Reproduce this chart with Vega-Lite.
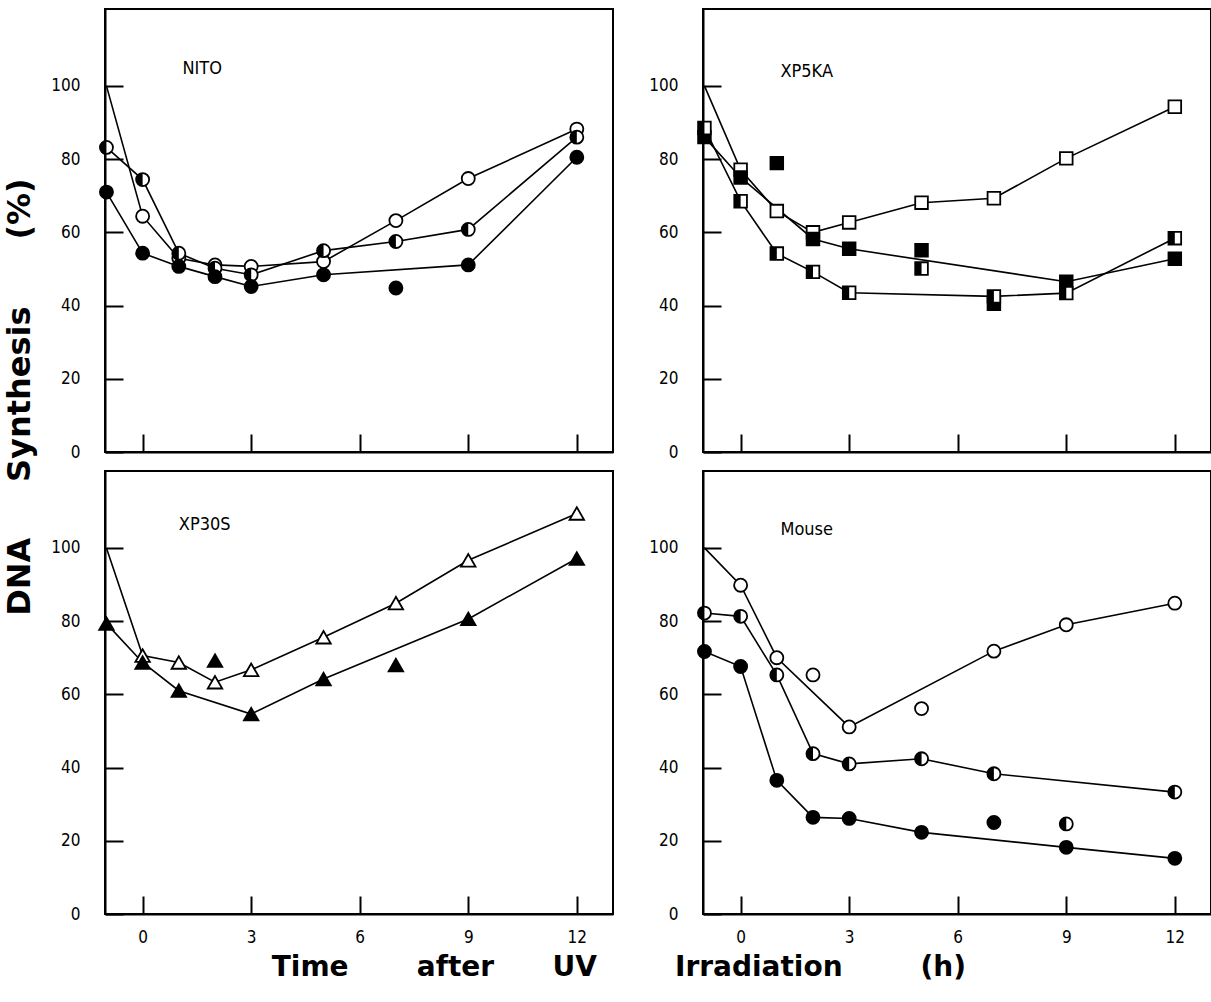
{
  "$schema": "https://vega.github.io/schema/vega-lite/v6.json",
  "background": "white",
  "padding": {"left": 3, "top": 8, "right": 0, "bottom": 2},
  "title": {"text": "DNA\u00a0\u00a0\u00a0\u00a0\u00a0Synthesis\u00a0\u00a0\u00a0\u00a0\u00a0\u00a0(%)", "orient": "left", "anchor": "middle", "dx": 98, "font": "DejaVu Sans", "fontSize": 32, "fontWeight": "bold", "color": "black", "offset": 13},
  "datasets": {
    "pts": [
      {"panel": "NITO", "series": "open", "time": -1, "value": 100, "connected": true, "marked": false},
      {"panel": "NITO", "series": "open", "time": 0, "value": 64.4, "connected": true, "marked": true},
      {"panel": "NITO", "series": "open", "time": 1, "value": 52.9, "connected": true, "marked": true},
      {"panel": "NITO", "series": "open", "time": 2, "value": 51.1, "connected": true, "marked": true},
      {"panel": "NITO", "series": "open", "time": 3, "value": 50.7, "connected": true, "marked": true},
      {"panel": "NITO", "series": "open", "time": 5, "value": 52.0, "connected": true, "marked": true},
      {"panel": "NITO", "series": "open", "time": 7, "value": 63.2, "connected": true, "marked": true},
      {"panel": "NITO", "series": "open", "time": 9, "value": 74.7, "connected": true, "marked": true},
      {"panel": "NITO", "series": "open", "time": 12, "value": 88.2, "connected": true, "marked": true},
      {"panel": "NITO", "series": "half", "time": -1, "value": 83.2, "connected": true, "marked": true},
      {"panel": "NITO", "series": "half", "time": 0, "value": 74.4, "connected": true, "marked": true},
      {"panel": "NITO", "series": "half", "time": 1, "value": 54.3, "connected": true, "marked": true},
      {"panel": "NITO", "series": "half", "time": 2, "value": 50.2, "connected": true, "marked": true},
      {"panel": "NITO", "series": "half", "time": 3, "value": 48.4, "connected": true, "marked": true},
      {"panel": "NITO", "series": "half", "time": 5, "value": 55.0, "connected": true, "marked": true},
      {"panel": "NITO", "series": "half", "time": 7, "value": 57.5, "connected": true, "marked": true},
      {"panel": "NITO", "series": "half", "time": 9, "value": 60.8, "connected": true, "marked": true},
      {"panel": "NITO", "series": "half", "time": 12, "value": 86.0, "connected": true, "marked": true},
      {"panel": "NITO", "series": "filled", "time": -1, "value": 71.0, "connected": true, "marked": true},
      {"panel": "NITO", "series": "filled", "time": 0, "value": 54.3, "connected": true, "marked": true},
      {"panel": "NITO", "series": "filled", "time": 1, "value": 50.7, "connected": true, "marked": true},
      {"panel": "NITO", "series": "filled", "time": 2, "value": 47.9, "connected": true, "marked": true},
      {"panel": "NITO", "series": "filled", "time": 3, "value": 45.2, "connected": true, "marked": true},
      {"panel": "NITO", "series": "filled", "time": 5, "value": 48.4, "connected": true, "marked": true},
      {"panel": "NITO", "series": "filled", "time": 7, "value": 44.8, "connected": false, "marked": true},
      {"panel": "NITO", "series": "filled", "time": 9, "value": 51.1, "connected": true, "marked": true},
      {"panel": "NITO", "series": "filled", "time": 12, "value": 80.5, "connected": true, "marked": true},

      {"panel": "XP5KA", "series": "open", "time": -1, "value": 100, "connected": true, "marked": false},
      {"panel": "XP5KA", "series": "open", "time": 0, "value": 77.1, "connected": true, "marked": true},
      {"panel": "XP5KA", "series": "open", "time": 1, "value": 65.8, "connected": true, "marked": true},
      {"panel": "XP5KA", "series": "open", "time": 2, "value": 60.0, "connected": true, "marked": true},
      {"panel": "XP5KA", "series": "open", "time": 3, "value": 62.7, "connected": true, "marked": true},
      {"panel": "XP5KA", "series": "open", "time": 5, "value": 68.1, "connected": true, "marked": true},
      {"panel": "XP5KA", "series": "open", "time": 7, "value": 69.3, "connected": true, "marked": true},
      {"panel": "XP5KA", "series": "open", "time": 9, "value": 80.2, "connected": true, "marked": true},
      {"panel": "XP5KA", "series": "open", "time": 12, "value": 94.3, "connected": true, "marked": true},
      {"panel": "XP5KA", "series": "filled", "time": -1, "value": 86.0, "connected": true, "marked": true},
      {"panel": "XP5KA", "series": "filled", "time": 0, "value": 75.0, "connected": true, "marked": true},
      {"panel": "XP5KA", "series": "filled", "time": 1, "value": 78.9, "connected": false, "marked": true},
      {"panel": "XP5KA", "series": "filled", "time": 2, "value": 58.2, "connected": true, "marked": true},
      {"panel": "XP5KA", "series": "filled", "time": 3, "value": 55.5, "connected": true, "marked": true},
      {"panel": "XP5KA", "series": "filled", "time": 5, "value": 55.1, "connected": false, "marked": true},
      {"panel": "XP5KA", "series": "filled", "time": 7, "value": 40.5, "connected": false, "marked": true},
      {"panel": "XP5KA", "series": "filled", "time": 9, "value": 46.5, "connected": true, "marked": true},
      {"panel": "XP5KA", "series": "filled", "time": 12, "value": 52.8, "connected": true, "marked": true},
      {"panel": "XP5KA", "series": "half", "time": -1, "value": 88.5, "connected": true, "marked": true},
      {"panel": "XP5KA", "series": "half", "time": 0, "value": 68.5, "connected": true, "marked": true},
      {"panel": "XP5KA", "series": "half", "time": 1, "value": 54.2, "connected": true, "marked": true},
      {"panel": "XP5KA", "series": "half", "time": 2, "value": 49.2, "connected": true, "marked": true},
      {"panel": "XP5KA", "series": "half", "time": 3, "value": 43.5, "connected": true, "marked": true},
      {"panel": "XP5KA", "series": "half", "time": 5, "value": 50.1, "connected": false, "marked": true},
      {"panel": "XP5KA", "series": "half", "time": 7, "value": 42.5, "connected": true, "marked": true},
      {"panel": "XP5KA", "series": "half", "time": 9, "value": 43.4, "connected": true, "marked": true},
      {"panel": "XP5KA", "series": "half", "time": 12, "value": 58.4, "connected": true, "marked": true},

      {"panel": "XP30S", "series": "open", "time": -1, "value": 100, "connected": true, "marked": false},
      {"panel": "XP30S", "series": "open", "time": 0, "value": 70.6, "connected": true, "marked": true},
      {"panel": "XP30S", "series": "open", "time": 1, "value": 68.7, "connected": true, "marked": true},
      {"panel": "XP30S", "series": "open", "time": 2, "value": 63.3, "connected": true, "marked": true},
      {"panel": "XP30S", "series": "open", "time": 3, "value": 66.7, "connected": true, "marked": true},
      {"panel": "XP30S", "series": "open", "time": 5, "value": 75.6, "connected": true, "marked": true},
      {"panel": "XP30S", "series": "open", "time": 7, "value": 84.9, "connected": true, "marked": true},
      {"panel": "XP30S", "series": "open", "time": 9, "value": 96.6, "connected": true, "marked": true},
      {"panel": "XP30S", "series": "open", "time": 12, "value": 109.4, "connected": true, "marked": true},
      {"panel": "XP30S", "series": "filled", "time": -1, "value": 79.3, "connected": true, "marked": true},
      {"panel": "XP30S", "series": "filled", "time": 0, "value": 68.7, "connected": true, "marked": true},
      {"panel": "XP30S", "series": "filled", "time": 1, "value": 61.0, "connected": true, "marked": true},
      {"panel": "XP30S", "series": "filled", "time": 2, "value": 69.2, "connected": false, "marked": true},
      {"panel": "XP30S", "series": "filled", "time": 3, "value": 54.6, "connected": true, "marked": true},
      {"panel": "XP30S", "series": "filled", "time": 5, "value": 64.2, "connected": true, "marked": true},
      {"panel": "XP30S", "series": "filled", "time": 7, "value": 68.0, "connected": false, "marked": true},
      {"panel": "XP30S", "series": "filled", "time": 9, "value": 80.6, "connected": true, "marked": true},
      {"panel": "XP30S", "series": "filled", "time": 12, "value": 97.1, "connected": true, "marked": true},

      {"panel": "Mouse", "series": "open", "time": -1, "value": 100, "connected": true, "marked": false},
      {"panel": "Mouse", "series": "open", "time": 0, "value": 89.8, "connected": true, "marked": true},
      {"panel": "Mouse", "series": "open", "time": 1, "value": 70.0, "connected": true, "marked": true},
      {"panel": "Mouse", "series": "open", "time": 2, "value": 65.3, "connected": false, "marked": true},
      {"panel": "Mouse", "series": "open", "time": 3, "value": 51.1, "connected": true, "marked": true},
      {"panel": "Mouse", "series": "open", "time": 5, "value": 56.1, "connected": false, "marked": true},
      {"panel": "Mouse", "series": "open", "time": 7, "value": 71.8, "connected": true, "marked": true},
      {"panel": "Mouse", "series": "open", "time": 9, "value": 79.0, "connected": true, "marked": true},
      {"panel": "Mouse", "series": "open", "time": 12, "value": 84.9, "connected": true, "marked": true},
      {"panel": "Mouse", "series": "half", "time": -1, "value": 82.2, "connected": true, "marked": true},
      {"panel": "Mouse", "series": "half", "time": 0, "value": 81.3, "connected": true, "marked": true},
      {"panel": "Mouse", "series": "half", "time": 1, "value": 65.3, "connected": true, "marked": true},
      {"panel": "Mouse", "series": "half", "time": 2, "value": 43.8, "connected": true, "marked": true},
      {"panel": "Mouse", "series": "half", "time": 3, "value": 41.0, "connected": true, "marked": true},
      {"panel": "Mouse", "series": "half", "time": 5, "value": 42.4, "connected": true, "marked": true},
      {"panel": "Mouse", "series": "half", "time": 7, "value": 38.3, "connected": true, "marked": true},
      {"panel": "Mouse", "series": "half", "time": 9, "value": 24.6, "connected": false, "marked": true},
      {"panel": "Mouse", "series": "half", "time": 12, "value": 33.3, "connected": true, "marked": true},
      {"panel": "Mouse", "series": "filled", "time": -1, "value": 71.7, "connected": true, "marked": true},
      {"panel": "Mouse", "series": "filled", "time": 0, "value": 67.6, "connected": true, "marked": true},
      {"panel": "Mouse", "series": "filled", "time": 1, "value": 36.5, "connected": true, "marked": true},
      {"panel": "Mouse", "series": "filled", "time": 2, "value": 26.4, "connected": true, "marked": true},
      {"panel": "Mouse", "series": "filled", "time": 3, "value": 26.1, "connected": true, "marked": true},
      {"panel": "Mouse", "series": "filled", "time": 5, "value": 22.3, "connected": true, "marked": true},
      {"panel": "Mouse", "series": "filled", "time": 7, "value": 25.0, "connected": false, "marked": true},
      {"panel": "Mouse", "series": "filled", "time": 9, "value": 18.2, "connected": true, "marked": true},
      {"panel": "Mouse", "series": "filled", "time": 12, "value": 15.2, "connected": true, "marked": true}
    ]
  },
  "vconcat": [
    {
      "title": {"text": "Time\u00a0\u00a0\u00a0\u00a0\u00a0\u00a0\u00a0after\u00a0\u00a0\u00a0\u00a0\u00a0\u00a0UV\u00a0\u00a0\u00a0\u00a0\u00a0\u00a0\u00a0\u00a0Irradiation\u00a0\u00a0\u00a0\u00a0\u00a0\u00a0\u00a0\u00a0(h)", "orient": "bottom", "anchor": "middle", "dx": -12, "font": "DejaVu Sans", "fontSize": 28, "fontWeight": "bold", "color": "black", "offset": 8},
      "columns": 2,
      "spacing": {"row": 9, "column": 33},
      "concat": [
        {
          "width": 508, "height": 443,
          "data": {"name": "pts"},
          "encoding": {
            "x": {"field": "time", "type": "quantitative", "scale": {"domain": [-1.04, 13], "nice": false, "zero": false}, "axis": {"values": [0, 3, 6, 9, 12], "labels": false}},
            "y": {"field": "value", "type": "quantitative", "scale": {"domain": [0, 121], "nice": false}, "axis": {"values": [0, 20, 40, 60, 80, 100]}}
          },
          "layer": [
            {"transform": [{"filter": "datum.panel === 'NITO' && datum.connected"}], "mark": {"type": "line", "color": "black", "strokeWidth": 1.6}, "encoding": {"detail": {"field": "series"}}},
            {"transform": [{"filter": "datum.panel === 'NITO' && datum.marked"}], "mark": {"type": "point", "shape": "circle", "filled": true, "stroke": "black", "strokeWidth": 1.8, "size": 170, "opacity": 1}, "encoding": {"fill": {"field": "series", "type": "nominal", "scale": {"domain": ["open", "half", "filled"], "range": ["white", "white", "black"]}, "legend": null}}},
            {"transform": [{"filter": "datum.panel === 'NITO' && datum.marked && datum.series === 'half'"}], "mark": {"type": "point", "shape": "M0,-1A1,1 0 0 0 0,1Z", "filled": true, "fill": "black", "strokeWidth": 0, "size": 170, "opacity": 1}},
            {"transform": [{"filter": "datum.panel === 'NITO' && datum.series === 'open' && datum.time === 12"}], "mark": {"type": "text", "align": "left", "baseline": "middle", "font": "DejaVu Sans Condensed", "fontSize": 18, "fill": "black"}, "encoding": {"x": {"datum": 1.1}, "y": {"datum": 104.7}, "text": {"field": "panel"}}}
          ]
        },
        {
          "width": 508, "height": 443,
          "data": {"name": "pts"},
          "encoding": {
            "x": {"field": "time", "type": "quantitative", "scale": {"domain": [-1.04, 13], "nice": false, "zero": false}, "axis": {"values": [0, 3, 6, 9, 12], "labels": false}},
            "y": {"field": "value", "type": "quantitative", "scale": {"domain": [0, 121], "nice": false}, "axis": {"values": [0, 20, 40, 60, 80, 100]}}
          },
          "layer": [
            {"transform": [{"filter": "datum.panel === 'XP5KA' && datum.connected"}], "mark": {"type": "line", "color": "black", "strokeWidth": 1.6}, "encoding": {"detail": {"field": "series"}}},
            {"transform": [{"filter": "datum.panel === 'XP5KA' && datum.marked"}], "mark": {"type": "point", "shape": "square", "filled": true, "stroke": "black", "strokeWidth": 1.8, "size": 160, "opacity": 1}, "encoding": {"fill": {"field": "series", "type": "nominal", "scale": {"domain": ["open", "half", "filled"], "range": ["white", "white", "black"]}, "legend": null}}},
            {"transform": [{"filter": "datum.panel === 'XP5KA' && datum.marked && datum.series === 'half'"}], "mark": {"type": "point", "shape": "M-1,-1H0V1H-1Z", "filled": true, "fill": "black", "strokeWidth": 0, "size": 160, "opacity": 1}},
            {"transform": [{"filter": "datum.panel === 'XP5KA' && datum.series === 'open' && datum.time === 12"}], "mark": {"type": "text", "align": "left", "baseline": "middle", "font": "DejaVu Sans Condensed", "fontSize": 18, "fill": "black"}, "encoding": {"x": {"datum": 1.1}, "y": {"datum": 103.7}, "text": {"field": "panel"}}}
          ]
        },
        {
          "width": 508, "height": 443,
          "data": {"name": "pts"},
          "encoding": {
            "x": {"field": "time", "type": "quantitative", "scale": {"domain": [-1.04, 13], "nice": false, "zero": false}, "axis": {"values": [0, 3, 6, 9, 12]}},
            "y": {"field": "value", "type": "quantitative", "scale": {"domain": [0, 121], "nice": false}, "axis": {"values": [0, 20, 40, 60, 80, 100]}}
          },
          "layer": [
            {"transform": [{"filter": "datum.panel === 'XP30S' && datum.connected"}], "mark": {"type": "line", "color": "black", "strokeWidth": 1.6}, "encoding": {"detail": {"field": "series"}}},
            {"transform": [{"filter": "datum.panel === 'XP30S' && datum.marked"}], "mark": {"type": "point", "shape": "triangle-up", "filled": true, "stroke": "black", "strokeWidth": 1.8, "size": 210, "opacity": 1}, "encoding": {"fill": {"field": "series", "type": "nominal", "scale": {"domain": ["open", "half", "filled"], "range": ["white", "white", "black"]}, "legend": null}}},
            {"transform": [{"filter": "datum.panel === 'XP30S' && datum.series === 'open' && datum.time === 12"}], "mark": {"type": "text", "align": "left", "baseline": "middle", "font": "DejaVu Sans Condensed", "fontSize": 18, "fill": "black"}, "encoding": {"x": {"datum": 1.0}, "y": {"datum": 106.2}, "text": {"field": "panel"}}}
          ]
        },
        {
          "width": 508, "height": 443,
          "data": {"name": "pts"},
          "encoding": {
            "x": {"field": "time", "type": "quantitative", "scale": {"domain": [-1.04, 13], "nice": false, "zero": false}, "axis": {"values": [0, 3, 6, 9, 12]}},
            "y": {"field": "value", "type": "quantitative", "scale": {"domain": [0, 121], "nice": false}, "axis": {"values": [0, 20, 40, 60, 80, 100]}}
          },
          "layer": [
            {"transform": [{"filter": "datum.panel === 'Mouse' && datum.connected"}], "mark": {"type": "line", "color": "black", "strokeWidth": 1.6}, "encoding": {"detail": {"field": "series"}}},
            {"transform": [{"filter": "datum.panel === 'Mouse' && datum.marked"}], "mark": {"type": "point", "shape": "circle", "filled": true, "stroke": "black", "strokeWidth": 1.8, "size": 170, "opacity": 1}, "encoding": {"fill": {"field": "series", "type": "nominal", "scale": {"domain": ["open", "half", "filled"], "range": ["white", "white", "black"]}, "legend": null}}},
            {"transform": [{"filter": "datum.panel === 'Mouse' && datum.marked && datum.series === 'half'"}], "mark": {"type": "point", "shape": "M0,-1A1,1 0 0 0 0,1Z", "filled": true, "fill": "black", "strokeWidth": 0, "size": 170, "opacity": 1}},
            {"transform": [{"filter": "datum.panel === 'Mouse' && datum.series === 'open' && datum.time === 12"}], "mark": {"type": "text", "align": "left", "baseline": "middle", "font": "DejaVu Sans Condensed", "fontSize": 18, "fill": "black"}, "encoding": {"x": {"datum": 1.1}, "y": {"datum": 105}, "text": {"field": "panel"}}}
          ]
        }
      ]
    }
  ],
  "config": {
    "view": {"stroke": "black", "strokeWidth": 2},
    "axis": {
      "title": null, "grid": false,
      "domainColor": "black", "domainWidth": 2,
      "tickColor": "black", "tickWidth": 2, "tickSize": -18,
      "labelColor": "black", "labelFont": "DejaVu Sans Condensed", "labelFontSize": 17
    },
    "axisY": {"labelPadding": 43},
    "axisX": {"labelPadding": 33}
  }
}
